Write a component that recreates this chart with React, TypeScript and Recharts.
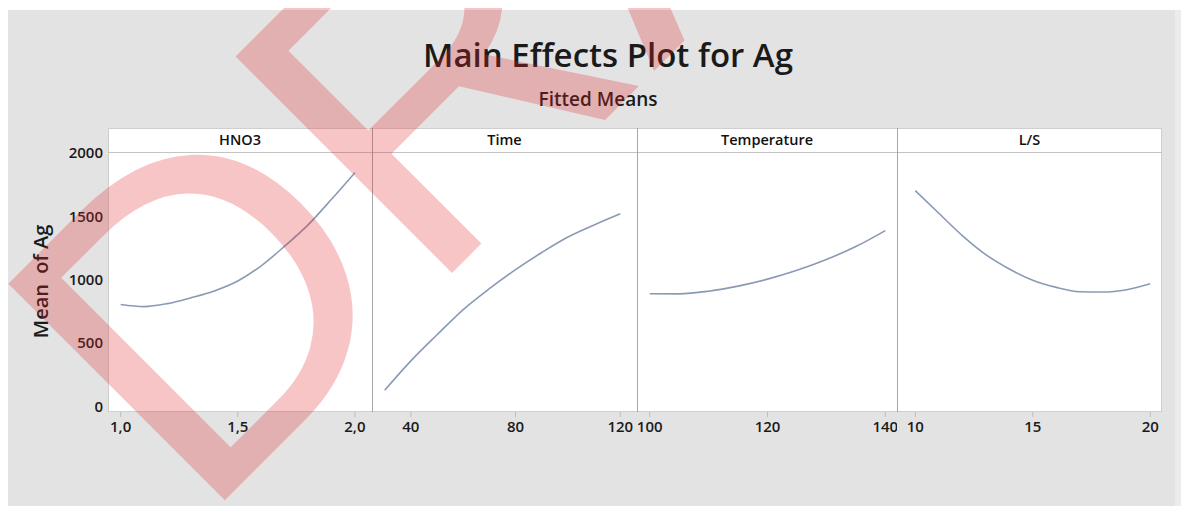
import React from "react";
import { LineChart, Line, XAxis, YAxis } from "recharts";

// factor levels and fitted means
const hno3Levels = [1.0, 1.1, 1.2, 1.3, 1.4, 1.5, 1.6, 1.7, 1.8, 1.9, 2.0];
const hno3Means = [805, 788, 812, 858, 912, 990, 1110, 1265, 1433, 1635, 1845];

const timeLevels = [30, 40, 50, 60, 70, 80, 90, 100, 110, 120];
const timeMeans = [128, 360, 566, 765, 930, 1080, 1215, 1337, 1432, 1520];

const tempLevels = [100, 105, 110, 115, 120, 125, 130, 135, 140];
const tempMeans = [890, 889, 910, 950, 1005, 1075, 1160, 1262, 1388];

const lsLevels = [10, 11, 12, 13, 14, 15, 16, 17, 18, 19, 20];
const lsMeans = [1703, 1525, 1348, 1198, 1085, 997, 940, 906, 903, 922, 968];

const hno3Ticks = [1.0, 1.5, 2.0];
const timeTicks = [40, 80, 120];
const tempTicks = [100, 120, 140];
const lsTicks = [10, 15, 20];
const yTicks = [0, 500, 1000, 1500, 2000];

const toRows = (xs: number[], ys: number[]) => xs.map((x, i) => ({ x, y: ys[i] }));

const FONT = "'Open Sans', 'Noto Sans', sans-serif";
const LINE = "#8a9ab3";

type Panel = {
  name: string;
  data: { x: number; y: number }[];
  ticks: number[];
  domain: [number, number];
  fmt?: (v: number) => string;
  left: number;
  right: number;
};

const panels: Panel[] = [
  {
    name: "HNO3",
    data: toRows(hno3Levels, hno3Means),
    ticks: hno3Ticks,
    domain: [0.946, 2.073],
    fmt: (v) => v.toFixed(1).replace(".", ","),
    left: 108,
    right: 372,
  },
  {
    name: "Time",
    data: toRows(timeLevels, timeMeans),
    ticks: timeTicks,
    domain: [25.15, 126.38],
    left: 372,
    right: 637,
  },
  {
    name: "Temperature",
    data: toRows(tempLevels, tempMeans),
    ticks: tempTicks,
    domain: [97.84, 141.99],
    left: 637,
    right: 897,
  },
  {
    name: "L/S",
    data: toRows(lsLevels, lsMeans),
    ticks: lsTicks,
    domain: [9.22, 20.5],
    left: 897,
    right: 1162,
  },
];

// page coords -> container coords (body margin 8)
const px = (v: number) => v - 8;

const PLOT_TOP = 153;
const PLOT_BOTTOM = 412;
const STRIP_TOP = 128;
const YW = 60;
const MT = 10;

const tickStyle = { fontFamily: FONT, fontSize: 15, fontWeight: 600, fill: "#1a1a1a" };

export default function App() {
  return (
    <div style={{ position: "relative", width: 1181, height: 498, background: "#fff", overflow: "hidden" }}>
      <div style={{ position: "absolute", left: 0, top: 2, width: 1167, height: 496, background: "#e3e3e3" }} />
      <div style={{ position: "absolute", left: 1167, top: 2, width: 14, height: 496, background: "#ececec" }} />

      <div
        style={{
          position: "absolute",
          left: px(608) - 300,
          width: 600,
          top: 24,
          textAlign: "center",
          fontFamily: FONT,
          fontSize: 33,
          fontWeight: 600,
          color: "#1a1a1a",
          whiteSpace: "nowrap",
        }}
      >
        Main Effects Plot for Ag
      </div>
      <div
        style={{
          position: "absolute",
          left: px(598) - 200,
          width: 400,
          top: 78,
          textAlign: "center",
          fontFamily: FONT,
          fontSize: 19,
          fontWeight: 600,
          color: "#1a1a1a",
        }}
      >
        Fitted Means
      </div>

      {/* panel frame and strips */}
      <div
        style={{
          position: "absolute",
          left: px(108),
          top: px(STRIP_TOP),
          width: 1162 - 108,
          height: PLOT_BOTTOM - STRIP_TOP,
          background: "#fff",
          border: "1px solid #cfcfcf",
          boxSizing: "border-box",
        }}
      />
      <div
        style={{
          position: "absolute",
          left: px(108),
          top: px(PLOT_TOP) - 1,
          width: 1162 - 108,
          height: 1,
          background: "#c4c4c4",
        }}
      />
      {panels.slice(1).map((p) => (
        <div
          key={p.name}
          style={{
            position: "absolute",
            left: px(p.left),
            top: px(STRIP_TOP),
            width: 1,
            height: PLOT_BOTTOM - STRIP_TOP,
            background: "#a6a6a6",
          }}
        />
      ))}
      {panels.map((p) => (
        <div
          key={p.name + "-strip"}
          style={{
            position: "absolute",
            left: px(p.left),
            width: p.right - p.left,
            top: px(STRIP_TOP) + 2,
            textAlign: "center",
            fontFamily: FONT,
            fontSize: 14.5,
            fontWeight: 600,
            color: "#111",
          }}
        >
          {p.name}
        </div>
      ))}

      <div
        style={{
          position: "absolute",
          left: px(40) - 80,
          top: px(282) - 14,
          width: 160,
          textAlign: "center",
          transform: "rotate(-90deg)",
          fontFamily: FONT,
          fontSize: 20,
          fontWeight: 600,
          color: "#1a1a1a",
          whiteSpace: "pre",
        }}
      >
        {"Mean  of Ag"}
      </div>

      {panels.map((p, i) => {
        const yw = i === 0 ? YW : 0;
        const w = p.right - p.left;
        return (
          <div
            key={p.name + "-chart"}
            style={{ position: "absolute", left: px(p.left) - yw, top: px(PLOT_TOP) - MT }}
          >
            <LineChart
              width={w + yw}
              height={PLOT_BOTTOM - PLOT_TOP + MT + 34}
              data={p.data}
              margin={{ top: MT, right: 0, bottom: 4, left: 0 }}
            >
              <XAxis
                dataKey="x"
                type="number"
                domain={p.domain}
                allowDataOverflow
                ticks={p.ticks}
                interval={0}
                tickFormatter={p.fmt}
                height={30}
                axisLine={false}
                tickSize={5}
                tickMargin={4}
                tickLine={{ stroke: "#bdbdbd" }}
                tick={tickStyle}
              />
              <YAxis
                type="number"
                domain={[-43, 2000]}
                allowDataOverflow
                ticks={yTicks}
                interval={0}
                hide={i !== 0}
                width={yw}
                axisLine={false}
                tickLine={false}
                tickSize={3}
                tickMargin={2}
                tick={tickStyle}
              />
              <Line
                type="monotone"
                dataKey="y"
                stroke={LINE}
                strokeWidth={1.6}
                dot={false}
                isAnimationActive={false}
              />
            </LineChart>
          </div>
        );
      })}

      <svg
        width={1181}
        height={498}
        style={{ position: "absolute", left: 0, top: 0, pointerEvents: "none" }}
      >
        <text
          x={191}
          y={518}
          transform="rotate(-45 191 518)"
          fontFamily="'Liberation Sans', Arial, sans-serif"
          fontWeight="normal"
          fontSize={445}
          fill="rgb(225,40,40)"
          fillOpacity={0.27}
        >
          DRAFT
        </text>
      </svg>
    </div>
  );
}
